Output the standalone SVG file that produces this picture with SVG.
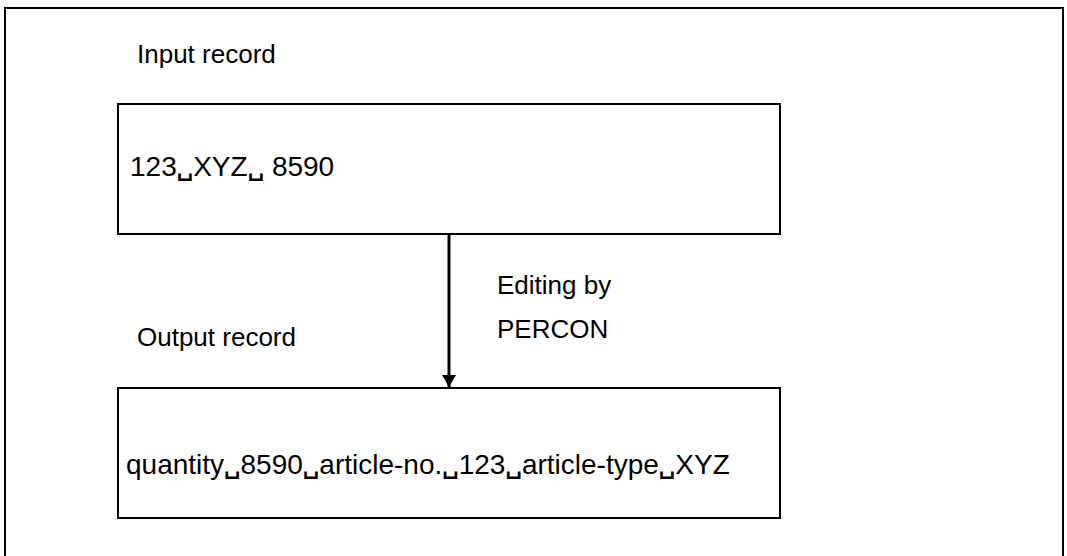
<svg xmlns="http://www.w3.org/2000/svg" width="1067" height="556" viewBox="0 0 1067 556">
  <defs>
    <marker id="arrowhead" viewBox="0 0 12 14" refX="12" refY="7" markerWidth="12" markerHeight="14" markerUnits="userSpaceOnUse" orient="auto">
      <path d="M0,0 L12,7 L0,14 Z" fill="#000"/>
    </marker>
  </defs>
  <style>
    .frame { fill: none; stroke: #000; stroke-width: 2; }
    .box { fill: #fff; stroke: #000; stroke-width: 2; }
    .label { font-family: "Liberation Sans", Arial, sans-serif; font-size: 26px; fill: #000; }
    .content { font-family: "Liberation Sans", Arial, sans-serif; font-size: 28px; fill: #000; }
    .blank { font-family: "DejaVu Sans", sans-serif; font-size: 23px; font-weight: bold; }
    .link { fill: none; stroke: #000; stroke-width: 3; }
  </style>

  <rect class="frame" x="5" y="8" width="1058" height="570"/>

  <g id="input-record">
    <text class="label" x="137" y="63">Input record</text>
    <rect class="box" x="118" y="104" width="662" height="130"/>
    <text class="content" x="130" y="176">123<tspan class="blank">␣</tspan>XYZ<tspan class="blank">␣</tspan> 8590</text>
  </g>

  <g id="output-record">
    <text class="label" x="137" y="346">Output record</text>
    <rect class="box" x="118" y="388" width="662" height="130"/>
    <text class="content" x="126" y="474">quantity<tspan class="blank">␣</tspan>8590<tspan class="blank">␣</tspan>article-no.<tspan class="blank">␣</tspan>123<tspan class="blank">␣</tspan>article-type<tspan class="blank">␣</tspan>XYZ</text>
  </g>

  <g id="connectors">
    <line class="link" x1="449" y1="234" x2="449" y2="387" marker-end="url(#arrowhead)"/>
    <text class="label" x="497" y="294">Editing by</text>
    <text class="label" x="497" y="338">PERCON</text>
  </g>
</svg>
